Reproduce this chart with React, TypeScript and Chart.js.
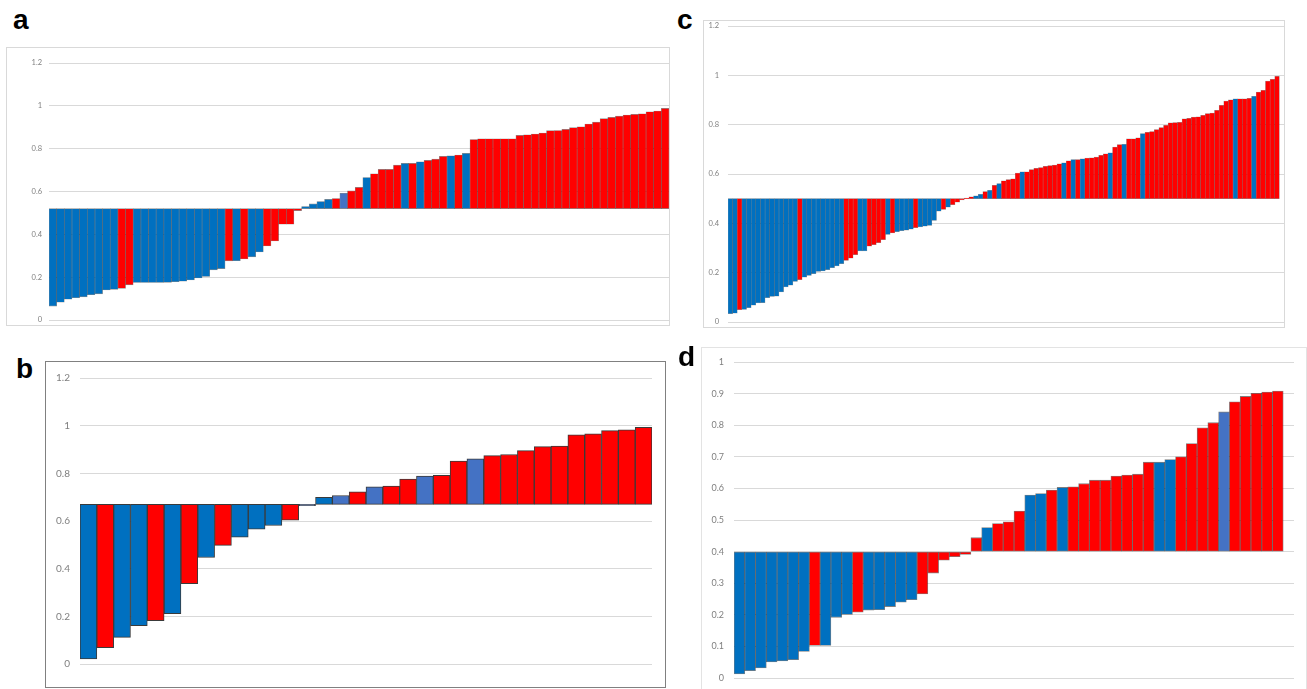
import React, { useEffect, useRef } from "react";
import { Chart, registerables } from "chart.js";

Chart.register(...registerables);

// ---------- colours ----------
const BLUE = "#0070C0";
const RED = "#FF0000";
const LIGHT = "#4472C4";
const colorOf: Record<string, string> = { B: BLUE, R: RED, L: LIGHT };

// ---------- panel a ----------
const aBase = 0.52;
const aTicks = [0, 0.2, 0.4, 0.6, 0.8, 1, 1.2];
const aValues = [
  0.065, 0.083, 0.097, 0.104, 0.108, 0.118, 0.122, 0.14, 0.143, 0.148,
  0.164, 0.175, 0.175, 0.175, 0.175, 0.176, 0.179, 0.181, 0.187, 0.196,
  0.203, 0.234, 0.24, 0.276, 0.277, 0.285, 0.295, 0.318, 0.346, 0.369,
  0.447, 0.447, 0.511, 0.53, 0.542, 0.553, 0.563, 0.567, 0.592, 0.603,
  0.619, 0.665, 0.683, 0.703, 0.703, 0.723, 0.731, 0.731, 0.739, 0.745,
  0.751, 0.764, 0.767, 0.77, 0.778, 0.843, 0.846, 0.846, 0.846, 0.846,
  0.846, 0.862, 0.865, 0.868, 0.873, 0.884, 0.885, 0.89, 0.898, 0.902,
  0.915, 0.924, 0.94, 0.946, 0.952, 0.957, 0.96, 0.963, 0.972, 0.976,
  0.988,
];
const aGroups = [
  "B", "B", "B", "B", "B", "B", "B", "B", "B", "R",
  "R", "B", "B", "B", "B", "B", "B", "B", "B", "B",
  "B", "B", "B", "R", "B", "R", "B", "B", "R", "R",
  "R", "R", "R", "B", "B", "B", "B", "R", "L", "R",
  "R", "B", "R", "R", "R", "R", "B", "R", "B", "R",
  "R", "R", "B", "R", "B", "R", "R", "R", "R", "R",
  "R", "R", "R", "R", "R", "R", "R", "R", "R", "R",
  "R", "R", "R", "R", "R", "R", "R", "R", "R", "R",
  "R",
];

// ---------- panel b ----------
const bBase = 0.67;
const bTicks = [0, 0.2, 0.4, 0.6, 0.8, 1, 1.2];
const bValues = [
  0.021, 0.069, 0.112, 0.161, 0.182, 0.211, 0.337, 0.447, 0.498, 0.532,
  0.566, 0.581, 0.603, 0.664, 0.699, 0.707, 0.722, 0.743, 0.746, 0.776,
  0.788, 0.792, 0.851, 0.861, 0.874, 0.879, 0.895, 0.912, 0.914, 0.962,
  0.966, 0.979, 0.983, 0.993,
];
const bGroups = [
  "B", "R", "B", "B", "R", "B", "R", "B", "R", "B",
  "B", "B", "R", "L", "B", "L", "R", "L", "R", "R",
  "L", "R", "R", "L", "R", "R", "R", "R", "R", "R",
  "R", "R", "R", "R",
];

// ---------- panel c ----------
const cBase = 0.5;
const cTicks = [0, 0.2, 0.4, 0.6, 0.8, 1, 1.2];
const cValues: (number | null)[] = [
  0.034, 0.036, 0.05, 0.051, 0.058, 0.068, 0.077, 0.078, 0.099, 0.104,
  0.105, 0.122, 0.142, 0.149, 0.165, 0.172, 0.182, 0.189, 0.196, 0.205,
  0.207, 0.212, 0.22, 0.227, 0.236, 0.25, 0.259, 0.273, 0.288, 0.288,
  0.307, 0.314, 0.322, 0.334, 0.355, 0.361, 0.366, 0.37, 0.372, 0.376,
  0.382, 0.385, 0.389, 0.392, 0.412, 0.449, 0.456, 0.466, 0.476, 0.486,
  0.495, 0.502, 0.507, 0.511, 0.518, 0.529, 0.534, 0.554, 0.561, 0.572,
  0.577, 0.58, 0.604, 0.609, 0.609, 0.618, 0.623, 0.626, 0.631, 0.634,
  0.636, 0.641, 0.645, 0.653, 0.658, 0.658, 0.661, 0.665, 0.666, 0.669,
  0.676, 0.682, 0.686, 0.709, 0.719, 0.72, 0.743, 0.743, 0.747, 0.764,
  0.769, 0.772, 0.78, 0.788, 0.797, 0.807, 0.808, 0.809, 0.824, 0.826,
  0.831, 0.832, 0.838, 0.845, 0.847, 0.858, 0.878, 0.896, 0.901, 0.905,
  0.905, 0.905, 0.907, 0.915, 0.932, 0.939, 0.977, 0.984, 0.996, null,
];
const cGroups = [
  "B", "B", "R", "B", "B", "B", "B", "B", "B", "B",
  "B", "B", "B", "B", "B", "R", "B", "B", "B", "B",
  "B", "B", "B", "B", "B", "R", "R", "R", "B", "B",
  "R", "R", "R", "R", "B", "R", "B", "B", "B", "B",
  "R", "B", "B", "B", "B", "B", "R", "B", "R", "R",
  "R", "R", "R", "B", "B", "R", "B", "R", "B", "R",
  "R", "R", "R", "B", "R", "R", "R", "R", "R", "R",
  "R", "R", "B", "R", "B", "R", "B", "R", "R", "R",
  "R", "R", "B", "R", "R", "B", "R", "R", "R", "B",
  "R", "R", "R", "R", "R", "R", "R", "R", "R", "R",
  "R", "R", "R", "R", "R", "R", "R", "R", "R", "B",
  "R", "R", "R", "B", "R", "R", "R", "R", "R", "R",
];

// ---------- panel d ----------
const dBase = 0.4;
const dTicks = [0, 0.1, 0.2, 0.3, 0.4, 0.5, 0.6, 0.7, 0.8, 0.9, 1];
const dValues: (number | null)[] = [
  0.013, 0.023, 0.032, 0.051, 0.054, 0.058, 0.084, 0.103, 0.103, 0.192,
  0.201, 0.208, 0.215, 0.216, 0.226, 0.24, 0.248, 0.266, 0.332, 0.373,
  0.384, 0.391, 0.444, 0.476, 0.489, 0.494, 0.528, 0.579, 0.584, 0.595,
  0.603, 0.605, 0.615, 0.626, 0.626, 0.639, 0.642, 0.645, 0.683, 0.683,
  0.691, 0.7, 0.742, 0.792, 0.808, 0.842, 0.874, 0.891, 0.901, 0.905,
  0.908, null,
];
const dGroups = [
  "B", "B", "B", "B", "B", "B", "B", "R", "B", "B",
  "B", "R", "B", "B", "B", "B", "B", "R", "R", "R",
  "R", "R", "R", "B", "R", "R", "R", "B", "B", "R",
  "B", "R", "R", "R", "R", "R", "R", "R", "R", "B",
  "B", "R", "R", "R", "R", "L", "R", "R", "R", "R",
  "R", "R",
];

const FONT = "Lato, 'Liberation Sans', Arial, sans-serif";

type PanelProps = {
  left: number;
  top: number;
  width: number;
  height: number;
  values: (number | null)[];
  groups: string[];
  base: number;
  ticks: number[];
  axisWidth: number;
  pad: { left: number; right: number; top: number; bottom: number };
  fontSize: number;
  tickPad: number;
  borderWidth: number;
  borderColor: string;
};

function Panel(p: PanelProps) {
  const ref = useRef<HTMLCanvasElement | null>(null);
  useEffect(() => {
    if (!ref.current) return;
    const labels = p.values.map((_, i) => String(i + 1));
    const chart = new Chart(ref.current, {
      type: "bar",
      data: {
        labels,
        datasets: [
          {
            data: p.values as any,
            base: p.base,
            backgroundColor: p.groups.map((g) => colorOf[g]),
            borderColor: p.borderColor,
            borderWidth: p.borderWidth,
            borderSkipped: false,
            barPercentage: 1,
            categoryPercentage: 1,
          } as any,
        ],
      },
      options: {
        responsive: false,
        animation: false,
        devicePixelRatio: 1,
        layout: { padding: p.pad },
        plugins: { legend: { display: false }, tooltip: { enabled: false } },
        scales: {
          x: { type: "category", display: false },
          y: {
            type: "linear",
            min: p.ticks[0],
            max: p.ticks[p.ticks.length - 1],
            afterBuildTicks: (scale: any) => {
              scale.ticks = p.ticks.map((v) => ({ value: v }));
            },
            afterFit: (scale: any) => {
              scale.width = p.axisWidth;
              scale.paddingTop = 0;
              scale.paddingBottom = 0;
            },
            border: { display: false },
            grid: { color: "#d9d9d9", lineWidth: 1, drawTicks: false },
            ticks: {
              color: "#7f7f7f",
              padding: p.tickPad,
              font: { family: FONT, size: p.fontSize },
              callback: (v: any) => String(v),
            },
          },
        },
      } as any,
    });
    return () => chart.destroy();
  }, []);
  return (
    <canvas
      ref={ref}
      width={p.width}
      height={p.height}
      style={{ position: "absolute", left: p.left, top: p.top, width: p.width, height: p.height }}
    />
  );
}

const frame = (left: number, top: number, width: number, height: number, border: string) => (
  <div
    style={{
      position: "absolute",
      left,
      top,
      width,
      height,
      boxSizing: "border-box",
      border,
    }}
  />
);

const letter = (text: string, left: number, top: number) => (
  <div
    style={{
      position: "absolute",
      left,
      top,
      fontFamily: "'Liberation Sans', Arial, sans-serif",
      fontWeight: "bold",
      fontSize: 28,
      lineHeight: "28px",
      color: "#000",
    }}
  >
    {text}
  </div>
);

export default function App() {
  return (
    <div
      style={{
        position: "fixed",
        left: 0,
        top: 0,
        width: 1307,
        height: 689,
        overflow: "hidden",
        background: "#fff",
      }}
    >
      {frame(6, 47, 664, 279, "1px solid #d9d9d9")}
      {frame(45, 361, 621, 327, "1.5px solid #808080")}
      {frame(703, 20, 582, 308, "1px solid #d9d9d9")}
      {frame(701, 347, 606, 360, "1px solid #e3e3e3")}

      <Panel
        left={6}
        top={47}
        width={664}
        height={279}
        values={aValues}
        groups={aGroups}
        base={aBase}
        ticks={aTicks}
        axisWidth={43}
        pad={{ left: 0, right: 1, top: 16, bottom: 6 }}
        fontSize={7.5}
        tickPad={7}
        borderWidth={0.6}
        borderColor="rgba(0,0,0,0.45)"
      />
      <Panel
        left={45}
        top={361}
        width={621}
        height={327}
        values={bValues}
        groups={bGroups}
        base={bBase}
        ticks={bTicks}
        axisWidth={35}
        pad={{ left: 0, right: 14, top: 17, bottom: 24 }}
        fontSize={10}
        tickPad={10}
        borderWidth={1}
        borderColor="#3a3a3a"
      />
      <Panel
        left={695}
        top={20}
        width={590}
        height={308}
        values={cValues}
        groups={cGroups}
        base={cBase}
        ticks={cTicks}
        axisWidth={33}
        pad={{ left: 0, right: 1, top: 6, bottom: 6 }}
        fontSize={7.5}
        tickPad={9}
        borderWidth={0.5}
        borderColor="rgba(0,0,0,0.4)"
      />
      <Panel
        left={690}
        top={347}
        width={617}
        height={342}
        values={dValues}
        groups={dGroups}
        base={dBase}
        ticks={dTicks}
        axisWidth={44}
        pad={{ left: 0, right: 13, top: 15, bottom: 11 }}
        fontSize={9}
        tickPad={10}
        borderWidth={0.8}
        borderColor="rgba(0,0,0,0.5)"
      />

      {letter("a", 13, 6)}
      {letter("b", 16, 355)}
      {letter("c", 677, 6)}
      {letter("d", 678, 343)}
    </div>
  );
}
